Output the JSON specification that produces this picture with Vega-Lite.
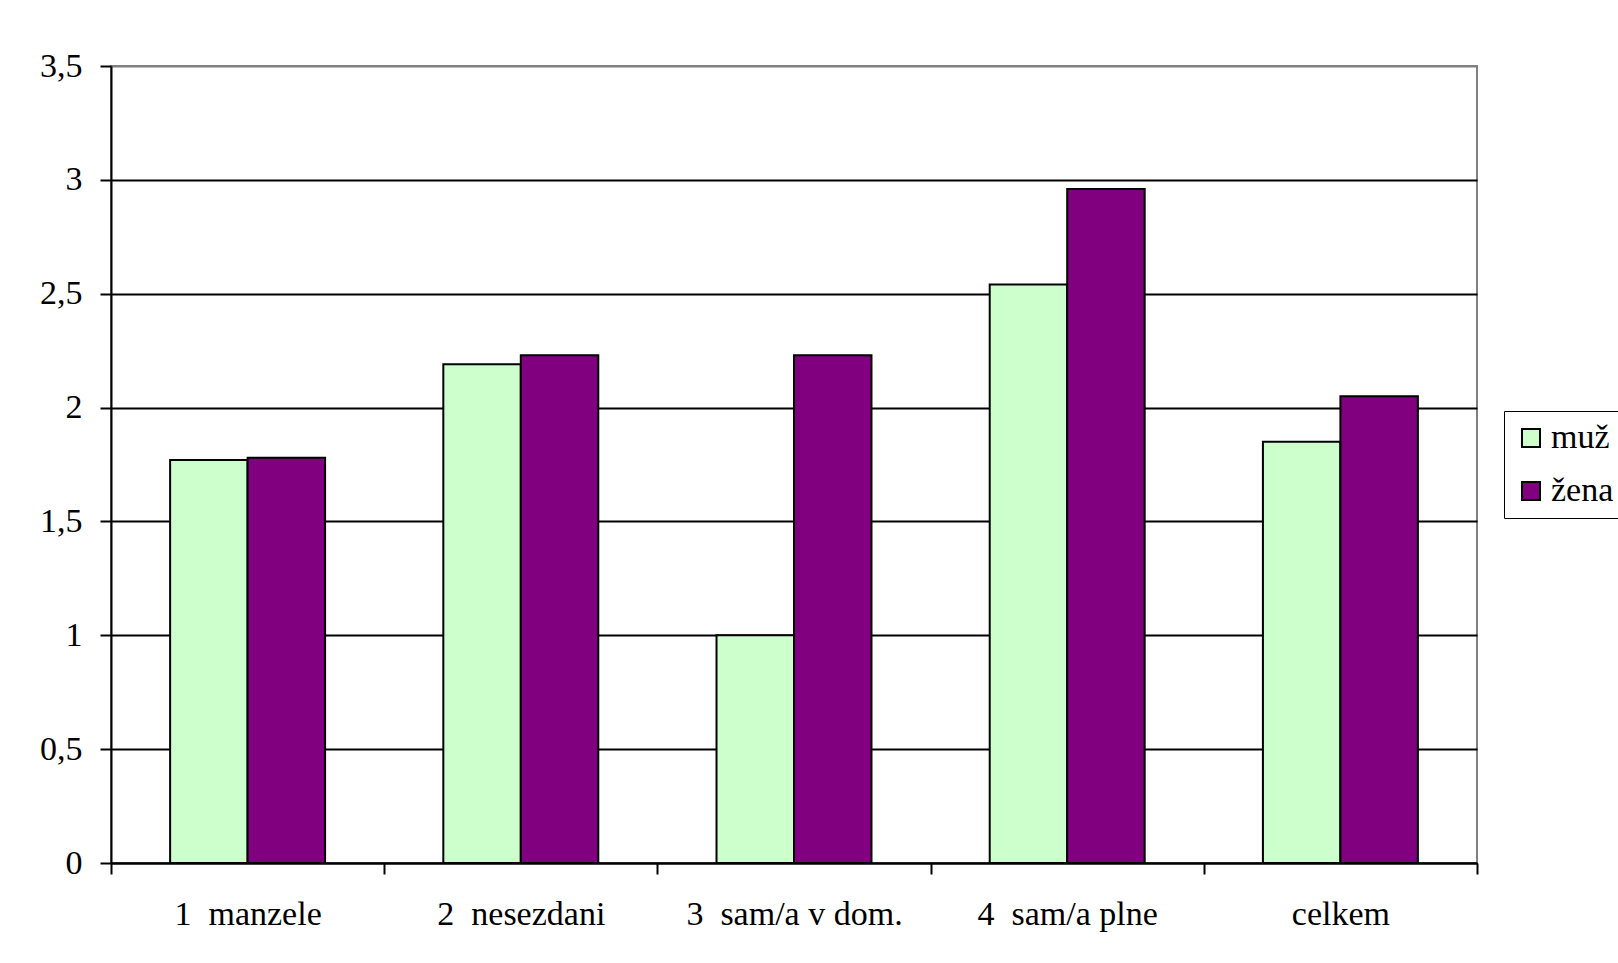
{
  "$schema": "https://vega.github.io/schema/vega-lite/v6.json",
  "autosize": {"type": "none"},
  "width": 1366,
  "height": 797,
  "padding": {"left": 111, "top": 66, "right": 141, "bottom": 100},
  "background": "white",
  "config": {
    "font": "Liberation Serif",
    "view": {"stroke": "#808080", "strokeWidth": 2}
  },
  "data": {
    "values": [
      {"skupina": "1\u00a0 manzele", "pohlavi": "muž", "hodnota": 1.77},
      {"skupina": "1\u00a0 manzele", "pohlavi": "žena", "hodnota": 1.78},
      {"skupina": "2\u00a0 nesezdani", "pohlavi": "muž", "hodnota": 2.19},
      {"skupina": "2\u00a0 nesezdani", "pohlavi": "žena", "hodnota": 2.23},
      {"skupina": "3\u00a0 sam/a v dom.", "pohlavi": "muž", "hodnota": 1.0},
      {"skupina": "3\u00a0 sam/a v dom.", "pohlavi": "žena", "hodnota": 2.23},
      {"skupina": "4\u00a0 sam/a plne", "pohlavi": "muž", "hodnota": 2.54},
      {"skupina": "4\u00a0 sam/a plne", "pohlavi": "žena", "hodnota": 2.96},
      {"skupina": "celkem", "pohlavi": "muž", "hodnota": 1.85},
      {"skupina": "celkem", "pohlavi": "žena", "hodnota": 2.05}
    ]
  },
  "mark": {"type": "bar", "stroke": "black", "strokeWidth": 2},
  "encoding": {
    "x": {
      "field": "skupina",
      "type": "nominal",
      "sort": null,
      "scale": {"paddingInner": 0, "paddingOuter": 0},
      "axis": {
        "title": null,
        "labelAngle": 0,
        "labelFont": "Liberation Serif",
        "labelFontSize": 34,
        "labelColor": "black",
        "labelLimit": 0,
        "labelPadding": 23,
        "tickBand": "extent",
        "tickSize": 11,
        "tickWidth": 2,
        "tickColor": "black",
        "domainColor": "black",
        "domainWidth": 2,
        "grid": false
      }
    },
    "xOffset": {
      "field": "pohlavi",
      "type": "nominal",
      "scale": {"paddingInner": 0, "paddingOuter": 0.763}
    },
    "y": {
      "field": "hodnota",
      "type": "quantitative",
      "scale": {"domain": [0, 3.5], "nice": false},
      "axis": {
        "title": null,
        "values": [0, 0.5, 1, 1.5, 2, 2.5, 3, 3.5],
        "format": ".1~f",
        "labelExpr": "replace(datum.label, '.', ',')",
        "labelFont": "Liberation Serif",
        "labelFontSize": 34,
        "labelColor": "black",
        "labelPadding": 18,
        "tickSize": 11,
        "tickWidth": 2,
        "tickColor": "black",
        "domainColor": "black",
        "domainWidth": 2,
        "grid": true,
        "gridWidth": 2,
        "gridColor": {"condition": {"test": "datum.value == 3.5", "value": "#808080"}, "value": "black"}
      }
    },
    "color": {
      "field": "pohlavi",
      "type": "nominal",
      "scale": {"domain": ["muž", "žena"], "range": ["#CCFFCC", "#800080"]},
      "legend": {
        "title": null,
        "orient": "none",
        "legendX": 1393,
        "legendY": 345,
        "direction": "vertical",
        "strokeColor": "black",
        "fillColor": "white",
        "padding": 10,
        "symbolType": "square",
        "symbolSize": 324,
        "symbolStrokeColor": "black",
        "symbolStrokeWidth": 2,
        "labelFont": "Liberation Serif",
        "labelFontSize": 34,
        "labelColor": "black",
        "labelOffset": 3,
        "rowPadding": 19
      }
    }
  }
}
